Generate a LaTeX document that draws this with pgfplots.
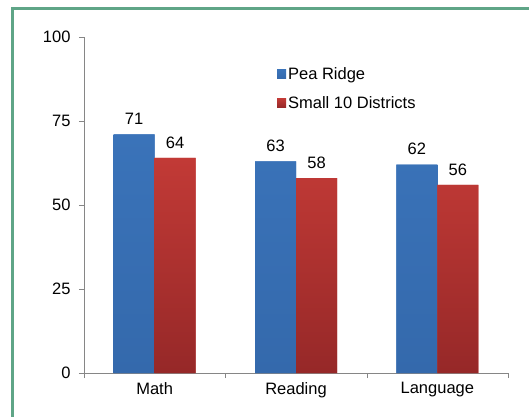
\documentclass[border=0pt]{standalone}
\usepackage{pgfplots}
\pgfplotsset{compat=1.18}
\usepackage{fontspec}
\setmainfont{Liberation Sans}
\definecolor{framegreen}{RGB}{95,165,135}
\definecolor{barblue}{RGB}{58,115,185}
\definecolor{barbluedark}{RGB}{52,105,172}
\definecolor{redtop}{RGB}{194,58,54}
\definecolor{redbot}{RGB}{150,40,40}
\definecolor{axisgray}{RGB}{134,134,134}
\newcommand{\lbl}{\fontsize{16.5}{19}\selectfont}
\begin{document}
\begin{tikzpicture}[x=1pt,y=1pt]
\useasboundingbox (0,0) rectangle (529,416);
\draw[framegreen, line width=3pt] (12,-2) -- (12,407) -- (531,407);
\begin{axis}[
    at={(84pt,43pt)}, anchor=south west,
    scale only axis,
    width=424pt, height=336pt,
    xmin=-0.5, xmax=2.5,
    ymin=0, ymax=100,
    ytick={0,25,50,75,100},
    xtick={-0.5,0.5,1.5,2.5},
    xticklabels={},
    extra x ticks={0,1,2},
    extra x tick labels={Math,Reading,Language},
    extra x tick style={major tick length=0pt},
    axis x line*=bottom,
    axis y line*=left,
    axis line style={axisgray},
    tick style={axisgray},
    tick align=outside,
    major tick length=5pt,
    ticklabel style={font=\lbl},
    yticklabel style={xshift=-5pt},
    xticklabel style={yshift=-6pt},
    /pgf/number format/assume math mode=true,
    ybar=0pt,
    bar width=41pt,
    nodes near coords,
    every node near coord/.append style={font=\lbl, black, yshift=6pt},
    legend style={draw=none, fill=none, font=\lbl,
        at={(0.455,0.915)}, anchor=north west,
        row sep=11pt, inner sep=0pt},
    legend cell align=left,
    legend image code/.code={\fill[#1] (0pt,-4.5pt) rectangle (9pt,4.5pt);},
]
\addplot[draw=none, fill=barblue, top color=barblue, bottom color=barbluedark]
    coordinates {(0,71) (1,63) (2,62)};
\addlegendentry{Pea Ridge}
\addplot[draw=none, fill=redtop, top color=redtop, bottom color=redbot]
    coordinates {(0,64) (1,58) (2,56)};
\addlegendentry{Small 10 Districts}
\end{axis}
\end{tikzpicture}
\end{document}
